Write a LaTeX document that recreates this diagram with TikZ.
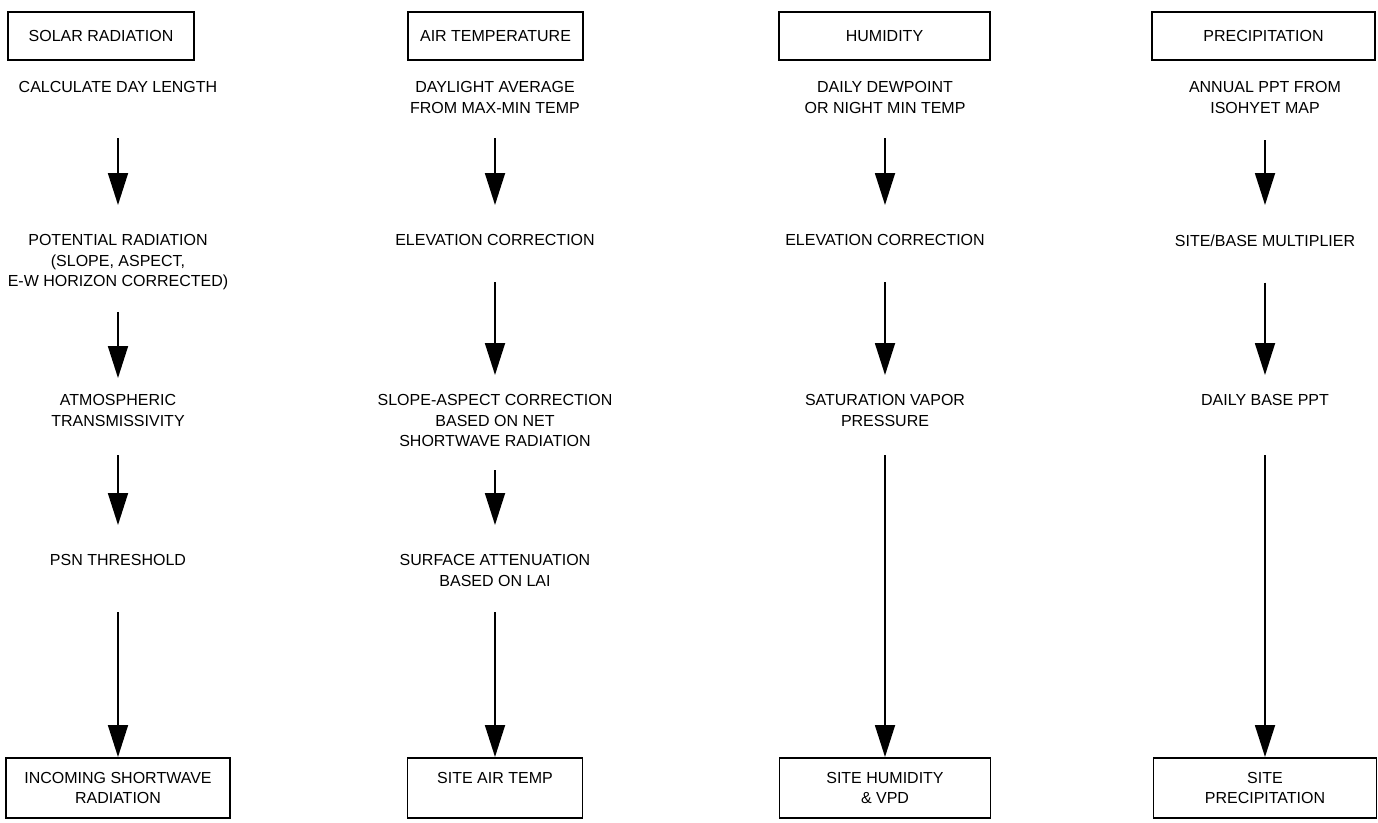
\documentclass[tikz,border=0pt]{standalone}
\usepackage{fontspec}
\setmainfont{Liberation Sans}
\usetikzlibrary{arrows.meta}
\tikzset{
    heading/.style={draw=black, line width=1.8pt, minimum height=48pt, inner sep=0pt},
    outcome/.style={draw=black, line width=1.8pt, minimum height=60pt, inner sep=0pt, align=center, anchor=north},
    stage/.style={align=center, anchor=north, inner sep=0pt},
    flow/.style={line width=1.8pt, -{Triangle[width=20pt,length=32pt]}}
}

\begin{document}
\begin{tikzpicture}[x=1pt, y=-1pt, font=\fontsize{16}{20.5}\selectfont]
    \useasboundingbox (0,0) rectangle (1378,822);
    % column headings
    \node[heading, minimum width=186pt] (solar) at (101,36) {SOLAR RADIATION};
    \node[heading, minimum width=175pt] (air) at (495.5,36) {AIR TEMPERATURE};
    \node[heading, minimum width=211pt] (hum) at (884.5,36) {HUMIDITY};
    \node[heading, minimum width=223pt] (ppt) at (1263.5,36) {PRECIPITATION};

    % solar radiation
    \node[stage] (sr1) at (118,81.5) {CALCULATE DAY LENGTH};
    \node[stage] (sr2) at (118,234.5) {POTENTIAL RADIATION\\(SLOPE, ASPECT,\\E-W HORIZON CORRECTED)};
    \node[stage] (sr3) at (118,394.5) {ATMOSPHERIC\\TRANSMISSIVITY};
    \node[stage] (sr4) at (118,554.5) {PSN THRESHOLD};
    \node[outcome, minimum width=224pt] (sr5) at (118,757) {INCOMING SHORTWAVE\\RADIATION};
    \draw[flow, shorten <=45pt, shorten >=29.5pt] (sr1) -- (sr2);
    \draw[flow, shorten <=21.5pt, shorten >=16.5pt] (sr2) -- (sr3);
    \draw[flow, shorten <=28.5pt, shorten >=29.5pt] (sr3) -- (sr4);
    \draw[flow, shorten <=46pt] (sr4) -- (sr5);

    % air temperature
    \node[stage] (at1) at (495,81.5) {DAYLIGHT AVERAGE\\FROM MAX-MIN TEMP};
    \node[stage] (at2) at (495,234.5) {ELEVATION CORRECTION};
    \node[stage] (at3) at (495,394.5) {SLOPE-ASPECT CORRECTION\\BASED ON NET\\SHORTWAVE RADIATION};
    \node[stage] (at4) at (495,554.5) {SURFACE ATTENUATION\\BASED ON LAI};
    \node[outcome, minimum width=175pt] (at5) at (495,757) {SITE AIR TEMP\\\vphantom{X}};
    \draw[flow, shorten <=24.5pt, shorten >=29.5pt] (at1) -- (at2);
    \draw[flow, shorten <=36pt, shorten >=19.5pt] (at2) -- (at3);
    \draw[flow, shorten <=23pt, shorten >=29.5pt] (at3) -- (at4);
    \draw[flow, shorten <=25.5pt] (at4) -- (at5);

    % humidity
    \node[stage] (hu1) at (885,81.5) {DAILY DEWPOINT\\OR NIGHT MIN TEMP};
    \node[stage] (hu2) at (885,234.5) {ELEVATION CORRECTION};
    \node[stage] (hu3) at (885,394.5) {SATURATION VAPOR\\PRESSURE};
    \node[outcome, minimum width=211pt] (hu5) at (885,757) {SITE HUMIDITY\\\& VPD};
    \draw[flow, shorten <=24.5pt, shorten >=29.5pt] (hu1) -- (hu2);
    \draw[flow, shorten <=36pt, shorten >=19.5pt] (hu2) -- (hu3);
    \draw[flow, shorten <=28.5pt] (hu3) -- (hu5);

    % precipitation
    \node[stage] (pp1) at (1265,81.5) {ANNUAL PPT FROM\\ISOHYET MAP};
    \node[stage] (pp2) at (1265,234.5) {SITE/BASE MULTIPLIER};
    \node[stage] (pp3) at (1265,394.5) {DAILY BASE PPT};
    \node[outcome, minimum width=223pt] (pp5) at (1265,757) {SITE\\PRECIPITATION};
    \draw[flow, shorten <=26.5pt, shorten >=29.5pt] (pp1) -- (pp2);
    \draw[flow, shorten <=36pt, shorten >=19.5pt] (pp2) -- (pp3);
    \draw[flow, shorten <=49pt] (pp3) -- (pp5);
\end{tikzpicture}
\end{document}
